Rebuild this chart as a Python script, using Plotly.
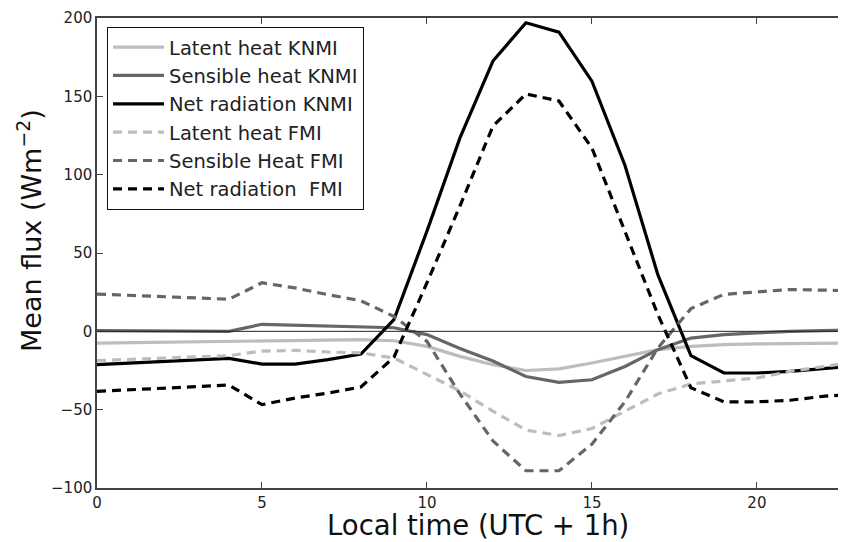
import plotly.graph_objects as go

hours = [0, 4, 5, 6, 7, 8, 9, 10, 11, 12, 13, 14, 15, 16, 17, 18, 19, 20, 21, 22, 23]

latent_knmi = [-7.5, -6.4, -5.7, -5.5, -5.4, -5.3, -6, -9.6, -16, -21.3, -25, -24, -20.2, -16, -11.7, -9.6, -8.5, -8, -8, -7.8, -7.5]
sensible_knmi = [0.4, 0, 4.5, 4, 3.8, 3.2, 2.3, -2.1, -11, -19, -28.8, -32.6, -30.9, -22.4, -11.7, -4.3, -2.1, -1, 0, 0.4, 0.8]
net_knmi = [-21.3, -17.3, -20.9, -20.9, -18.1, -14.5, 7.5, 64, 123.5, 172.5, 197, 191, 159.7, 106, 36, -15.5, -26.6, -26.6, -25.6, -24, -22]
latent_fmi = [-18.7, -15.5, -12.6, -12.2, -13.2, -13.8, -17, -27.7, -38, -51, -63, -66.5, -62, -51, -40, -33.6, -31.5, -29.8, -25.6, -22.4, -19.5]
sensible_fmi = [23.8, 20.5, 31, 27.7, 23.4, 19.5, 9.5, -6.4, -40, -70, -89, -89, -72, -45, -10.6, 14.5, 23.6, 25, 26.7, 26.3, 25.8]
net_fmi = [-38.3, -34.3, -46.8, -42.6, -39.4, -35.5, -16.5, 31, 80, 131, 151.5, 147, 117, 64, 10.6, -36, -45, -45, -44, -41.5, -40]

series = [
    ("Latent heat KNMI", latent_knmi, "#bdbdbd", "solid"),
    ("Sensible heat KNMI", sensible_knmi, "#666666", "solid"),
    ("Net radiation KNMI", net_knmi, "#000000", "solid"),
    ("Latent heat FMI", latent_fmi, "#bdbdbd", "9px,6px"),
    ("Sensible Heat FMI", sensible_fmi, "#666666", "9px,6px"),
    ("Net radiation  FMI", net_fmi, "#000000", "9px,6px"),
]

x_title = "Local time (UTC + 1h)"
y_title = "Mean flux (Wm<sup>\u22122</sup>)"

fig = go.Figure()
for name, vals, color, dash in series:
    fig.add_trace(go.Scatter(
        x=hours, y=vals, mode="lines", name=name,
        line=dict(color=color, width=3.2, dash=dash),
    ))

fig.add_hline(y=0, line=dict(color="#222222", width=1))

font_main = "DejaVu Sans, Liberation Sans, sans-serif"

fig.add_annotation(text=x_title, xref="paper", yref="paper", x=0.5087, y=-0.0787,
                   xanchor="center", yanchor="middle", showarrow=False,
                   font=dict(size=27.5, color="#111111"))
fig.add_annotation(text=y_title, xref="paper", yref="paper", x=-0.0895, y=0.549,
                   xanchor="center", yanchor="middle", showarrow=False, textangle=-90,
                   font=dict(size=27, color="#111111"))

fig.update_layout(
    width=838, height=534,
    margin=dict(l=89, r=0, t=10, b=54, autoexpand=False),
    paper_bgcolor="white", plot_bgcolor="white",
    font=dict(family=font_main, color="#222222"),
    showlegend=True,
    legend=dict(
        x=0.0134, y=0.981, xanchor="left", yanchor="top",
        bgcolor="white", bordercolor="#111111", borderwidth=1,
        font=dict(size=19.5, family=font_main, color="#222222"),
        tracegroupgap=0, itemwidth=51,
    ),
    xaxis=dict(
        range=[0, 22.7], tickvals=[0, 5, 10, 15, 20],
        ticks="inside", ticklen=6, tickcolor="#444444",
        showline=True, linecolor="#444444", linewidth=1.5, mirror="ticks",
        showgrid=False, zeroline=False, automargin=False,
        tickfont=dict(size=15),
    ),
    yaxis=dict(
        range=[-100, 200], tickvals=[-100, -50, 0, 50, 100, 150, 200],
        ticktext=["\u2212100", "\u221250", "0", "50", "100", "150", "200"],
        ticks="inside", ticklen=6, tickcolor="#444444",
        showline=True, linecolor="#444444", linewidth=1.5, mirror=False,
        showgrid=False, zeroline=False, automargin=False,
        tickfont=dict(size=15),
    ),
)

fig.write_html("out.html", config={"responsive": False})
